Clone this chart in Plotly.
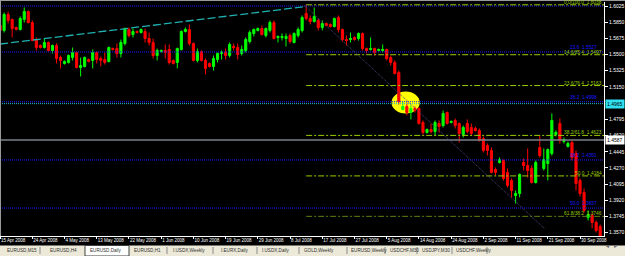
import plotly.graph_objects as go

W, H = 625, 256
L, R, T, B = 0, 21, 2, 20
PW, PH = W - L - R, H - T - B

# ---------------- data ----------------
tick_idx = [0, 8, 16, 24, 32, 40, 48, 56, 64, 72, 80, 88, 96, 104, 112, 120, 128, 136, 144]
tick_dates = ["15 Apr 2008", "24 Apr 2008", "4 May 2008", "13 May 2008", "22 May 2008",
              "1 Jun 2008", "10 Jun 2008", "19 Jun 2008", "29 Jun 2008", "8 Jul 2008",
              "17 Jul 2008", "27 Jul 2008", "5 Aug 2008", "14 Aug 2008", "24 Aug 2008",
              "2 Sep 2008", "11 Sep 2008", "21 Sep 2008", "30 Sep 2008"]

opens = [1.5814, 1.5760, 1.5933, 1.5879, 1.5792, 1.5771, 1.5879, 1.5965, 1.5846, 1.5662,
         1.5597, 1.5575, 1.5630, 1.5543, 1.5597, 1.5467, 1.5402, 1.5413, 1.5467, 1.5521,
         1.5359, 1.5370, 1.5445, 1.5435, 1.5521, 1.5456, 1.5445, 1.5424, 1.5564, 1.5564,
         1.5510, 1.5619, 1.5771, 1.5716, 1.5749, 1.5738, 1.5749, 1.5673, 1.5630, 1.5489,
         1.5532, 1.5543, 1.5554, 1.5435, 1.5413, 1.5554, 1.5749, 1.5771, 1.5619, 1.5435,
         1.5532, 1.5435, 1.5402, 1.5370, 1.5445, 1.5510, 1.5521, 1.5489, 1.5586, 1.5575,
         1.5510, 1.5543, 1.5640, 1.5727, 1.5760, 1.5781, 1.5706, 1.5760, 1.5846, 1.5684,
         1.5684, 1.5673, 1.5706, 1.5630, 1.5706, 1.5760, 1.5944, 1.5889, 1.5857, 1.5868,
         1.5792, 1.5835, 1.5825, 1.5803, 1.5900, 1.5771, 1.5662, 1.5662, 1.5684, 1.5673,
         1.5727, 1.5564, 1.5554, 1.5564, 1.5543, 1.5543, 1.5554, 1.5467, 1.5413, 1.5304,
         1.4904, 1.4936, 1.4871, 1.4915, 1.4915, 1.4763, 1.4655, 1.4687, 1.4665, 1.4752,
         1.4730, 1.4871, 1.4763, 1.4785, 1.4752, 1.4633, 1.4752, 1.4709, 1.4698, 1.4676,
         1.4590, 1.4514, 1.4460, 1.4254, 1.4330, 1.4351, 1.4222, 1.4135, 1.3972, 1.3993,
         1.4330, 1.4297, 1.4265, 1.4113, 1.4492, 1.4265, 1.4319, 1.4427, 1.4633, 1.4752,
         1.4557, 1.4503, 1.4546, 1.4427, 1.4135, 1.4005, 1.3734, 1.3755, 1.3680, 1.3636]
highs = [1.5846, 1.5955, 1.5965, 1.5889, 1.5803, 1.5911, 1.6009, 1.5976, 1.5868, 1.5684,
         1.5608, 1.5673, 1.5640, 1.5608, 1.5619, 1.5489, 1.5435, 1.5500, 1.5575, 1.5532,
         1.5467, 1.5478, 1.5456, 1.5554, 1.5532, 1.5478, 1.5521, 1.5586, 1.5575, 1.5619,
         1.5662, 1.5792, 1.5792, 1.5781, 1.5760, 1.5781, 1.5781, 1.5738, 1.5673, 1.5564,
         1.5554, 1.5608, 1.5608, 1.5445, 1.5575, 1.5760, 1.5792, 1.5825, 1.5630, 1.5564,
         1.5543, 1.5456, 1.5413, 1.5489, 1.5521, 1.5543, 1.5564, 1.5630, 1.5619, 1.5619,
         1.5597, 1.5684, 1.5760, 1.5781, 1.5792, 1.5814, 1.5792, 1.5868, 1.5868, 1.5706,
         1.5727, 1.5727, 1.5727, 1.5738, 1.5792, 1.5922, 1.6038, 1.5922, 1.6009, 1.5889,
         1.5868, 1.5846, 1.5835, 1.5900, 1.5922, 1.5781, 1.5706, 1.5738, 1.5695, 1.5738,
         1.5738, 1.5575, 1.5684, 1.5575, 1.5564, 1.5608, 1.5564, 1.5489, 1.5435, 1.5326,
         1.4990, 1.4980, 1.4947, 1.4936, 1.4926, 1.4785, 1.4698, 1.4752, 1.4785, 1.4785,
         1.4893, 1.4882, 1.4785, 1.4806, 1.4763, 1.4730, 1.4796, 1.4752, 1.4720, 1.4698,
         1.4611, 1.4535, 1.4492, 1.4276, 1.4384, 1.4362, 1.4265, 1.4157, 1.4026, 1.4211,
         1.4373, 1.4481, 1.4297, 1.4351, 1.4622, 1.4481, 1.4481, 1.4861, 1.4676, 1.4806,
         1.4600, 1.4557, 1.4568, 1.4460, 1.4157, 1.4048, 1.3810, 1.3777, 1.3701, 1.3658]
lows = [1.5738, 1.5738, 1.5835, 1.5684, 1.5760, 1.5760, 1.5846, 1.5835, 1.5640, 1.5543,
        1.5564, 1.5564, 1.5532, 1.5510, 1.5402, 1.5348, 1.5391, 1.5402, 1.5435, 1.5348,
        1.5261, 1.5359, 1.5413, 1.5348, 1.5402, 1.5370, 1.5391, 1.5413, 1.5543, 1.5467,
        1.5467, 1.5597, 1.5684, 1.5684, 1.5727, 1.5727, 1.5630, 1.5597, 1.5456, 1.5435,
        1.5521, 1.5456, 1.5391, 1.5391, 1.5348, 1.5543, 1.5738, 1.5597, 1.5424, 1.5413,
        1.5424, 1.5283, 1.5359, 1.5326, 1.5413, 1.5445, 1.5445, 1.5467, 1.5543, 1.5445,
        1.5489, 1.5521, 1.5619, 1.5695, 1.5749, 1.5706, 1.5684, 1.5738, 1.5662, 1.5630,
        1.5651, 1.5586, 1.5619, 1.5619, 1.5684, 1.5738, 1.5868, 1.5825, 1.5846, 1.5760,
        1.5760, 1.5803, 1.5792, 1.5792, 1.5738, 1.5640, 1.5597, 1.5630, 1.5651, 1.5651,
        1.5543, 1.5510, 1.5543, 1.5489, 1.5532, 1.5521, 1.5435, 1.5380, 1.5283, 1.4958,
        1.4893, 1.4839, 1.4796, 1.4871, 1.4741, 1.4633, 1.4644, 1.4644, 1.4622, 1.4655,
        1.4709, 1.4741, 1.4752, 1.4698, 1.4546, 1.4600, 1.4644, 1.4622, 1.4665, 1.4557,
        1.4438, 1.4405, 1.4211, 1.4189, 1.4319, 1.4135, 1.4059, 1.3951, 1.3885, 1.3951,
        1.4243, 1.4167, 1.4102, 1.4102, 1.4384, 1.4243, 1.4135, 1.4405, 1.4611, 1.4535,
        1.4535, 1.4492, 1.4351, 1.4026, 1.3961, 1.3788, 1.3701, 1.3614, 1.3571, 1.3506]
closes = [1.5760, 1.5933, 1.5868, 1.5781, 1.5771, 1.5889, 1.5965, 1.5846, 1.5651, 1.5575,
          1.5575, 1.5630, 1.5543, 1.5597, 1.5456, 1.5435, 1.5424, 1.5489, 1.5521, 1.5359,
          1.5380, 1.5467, 1.5424, 1.5521, 1.5445, 1.5435, 1.5413, 1.5575, 1.5554, 1.5510,
          1.5630, 1.5781, 1.5706, 1.5749, 1.5738, 1.5771, 1.5673, 1.5630, 1.5489, 1.5543,
          1.5543, 1.5521, 1.5413, 1.5402, 1.5564, 1.5749, 1.5771, 1.5619, 1.5435, 1.5532,
          1.5435, 1.5348, 1.5370, 1.5456, 1.5510, 1.5521, 1.5489, 1.5608, 1.5575, 1.5500,
          1.5554, 1.5662, 1.5738, 1.5771, 1.5781, 1.5716, 1.5781, 1.5846, 1.5673, 1.5695,
          1.5695, 1.5695, 1.5640, 1.5727, 1.5771, 1.5900, 1.5889, 1.5857, 1.5911, 1.5792,
          1.5835, 1.5814, 1.5803, 1.5889, 1.5771, 1.5662, 1.5651, 1.5673, 1.5662, 1.5727,
          1.5564, 1.5543, 1.5564, 1.5521, 1.5554, 1.5554, 1.5456, 1.5413, 1.5294, 1.4990,
          1.4936, 1.4871, 1.4915, 1.4893, 1.4752, 1.4655, 1.4687, 1.4665, 1.4763, 1.4720,
          1.4861, 1.4752, 1.4774, 1.4730, 1.4644, 1.4709, 1.4665, 1.4644, 1.4676, 1.4568,
          1.4460, 1.4460, 1.4222, 1.4222, 1.4362, 1.4157, 1.4081, 1.4026, 1.3993, 1.4200,
          1.4297, 1.4243, 1.4113, 1.4330, 1.4405, 1.4362, 1.4470, 1.4785, 1.4655, 1.4568,
          1.4579, 1.4535, 1.4384, 1.4102, 1.3993, 1.3810, 1.3766, 1.3680, 1.3593, 1.3517]

price_ticks = [1.6025, 1.5850, 1.5675, 1.5500, 1.5325, 1.5150, 1.4795, 1.4620,
               1.4445, 1.4270, 1.4095, 1.3920, 1.3745, 1.3570]

fib_start = 76
fib_levels = [1.6038, 1.5497, 1.5163, 1.4623, 1.4184, 1.3746]
fib_labels = ["0.0/100.0  1.6038", "14.6/85.4  1.5497", "23.6/76.4  1.5163",
              "38.2/61.8  1.4623", "50.0  1.4184", "61.8/38.2  1.3746"]
blue_levels = [1.6025, 1.5527, 1.4988, 1.4357, 1.3836]
blue_labels = ["", "23.6  1.5527", "38.2  1.4998", "38.2  1.4351", "50.0  1.3837"]
cyan_level = 1.4967
cyan_text = "1.4965"
grey_level = 1.4573
grey_text = "1.4587"

trend_pts = [(0, 1.5613), (76, 1.6020)]          # dashed cyan trendline
diag_pts = [(76, 1.6014), (135.3, 1.3609)]       # dotted diagonal
ellipse_box = (97.2, 104.2, 1.4861, 1.5099)      # x0, x1, y0, y1

tabs = ["EURUSD,M15", "EURUSD,H4", "EURUSD,Daily", "EURUSD,H1", "I.USDX,Weekly",
        "I.EURX,Daily", "I.USDX,Daily", "GOLD,Weekly", "EURUSD,Weekly", "USDCHF,M30",
        "USDJPY,M30", "USDCHF,Weekly"]
tab_x = [6, 49, 89, 133, 172, 220, 261, 303, 350, 389, 421, 455]
sep_x = [40, 167, 213, 257, 299, 347, 385, 417, 452, 487]
active_tab = 2

# ---------------- helpers (pixel -> paper) ----------------
def pxx(x):
    return (x - L) / PW

def pxy(y):
    return (H - B - y) / PH

FONT = "Liberation Sans"
GREEN_FIB = "#9acd00"
BLUE_FIB = "#1a1aff"

fig = go.Figure()

fig.add_trace(go.Candlestick(
    x=list(range(len(opens))), open=opens, high=highs, low=lows, close=closes,
    increasing=dict(line=dict(color="#00ff00", width=1), fillcolor="#00ff00"),
    decreasing=dict(line=dict(color="#ff0000", width=1), fillcolor="#ff0000"),
    whiskerwidth=0, showlegend=False, hoverinfo="skip"))

shapes = []
ann = []

# yellow ellipse (below candles)
shapes.append(dict(type="circle", xref="x", yref="y", layer="below",
                   x0=ellipse_box[0], x1=ellipse_box[1], y0=ellipse_box[2], y1=ellipse_box[3],
                   fillcolor="#ffff00", line=dict(width=0)))

# blue dotted levels
for lv, lab in zip(blue_levels, blue_labels):
    shapes.append(dict(type="line", xref="paper", yref="y", x0=0, x1=1, y0=lv, y1=lv,
                       line=dict(color=BLUE_FIB, width=1, dash="1px,1px")))
    if lab:
        ann.append(dict(xref="paper", yref="y", x=1, y=lv, text=lab, showarrow=False,
                        xanchor="right", yanchor="bottom", xshift=-6, yshift=1, borderpad=0,
                        font=dict(family=FONT, size=4.8, color=BLUE_FIB)))

# green fib levels
for i, (lv, lab) in enumerate(zip(fib_levels, fib_labels)):
    col = "#5f7f10" if i == len(fib_levels) - 1 else GREEN_FIB
    shapes.append(dict(type="line", xref="x", yref="y", x0=fib_start, x1=152, y0=lv, y1=lv,
                       line=dict(color=col, width=1, dash="6px,2px,2px,2px")))
    ann.append(dict(xref="paper", yref="y", x=1, y=lv, text=lab, showarrow=False,
                    xanchor="right", yanchor="bottom", xshift=-1, yshift=-1, borderpad=0,
                    font=dict(family=FONT, size=4.8, color=GREEN_FIB)))

# cyan dotted line and grey line
shapes.append(dict(type="line", xref="paper", yref="y", x0=0, x1=1, y0=cyan_level, y1=cyan_level,
                   line=dict(color="#20c0c8", width=1, dash="1px,1px")))
shapes.append(dict(type="line", xref="paper", yref="y", x0=0, x1=1, y0=grey_level, y1=grey_level,
                   line=dict(color="#7c818c", width=1.5)))

# trendline and diagonal
shapes.append(dict(type="line", xref="x", yref="y", x0=trend_pts[0][0], y0=trend_pts[0][1],
                   x1=trend_pts[1][0], y1=trend_pts[1][1],
                   line=dict(color="#1fb0b0", width=1.3, dash="8px,3px")))
shapes.append(dict(type="line", xref="x", yref="y", x0=diag_pts[0][0], y0=diag_pts[0][1],
                   x1=diag_pts[1][0], y1=diag_pts[1][1],
                   line=dict(color="#4a4a80", width=1, dash="1px,1px")))

# price boxes on the axis
ann.append(dict(xref="paper", yref="y", x=1, y=cyan_level, text=cyan_text, showarrow=False,
                xanchor="left", yanchor="middle", xshift=1, bgcolor="#30e0f0",
                font=dict(family=FONT, size=5, color="#000000"), borderpad=1))
ann.append(dict(xref="paper", yref="y", x=1, y=grey_level, text=grey_text, showarrow=False,
                xanchor="left", yanchor="middle", xshift=1, bgcolor="#ffffff",
                font=dict(family=FONT, size=5, color="#000000"), borderpad=1))

# window frame (top & left grey)
shapes.append(dict(type="line", xref="paper", yref="paper", x0=pxx(0), x1=pxx(W), y0=pxy(0.5), y1=pxy(0.5),
                   line=dict(color="#9a9a9a", width=1)))
shapes.append(dict(type="line", xref="paper", yref="paper", x0=pxx(0.5), x1=pxx(0.5), y0=pxy(0), y1=pxy(236),
                   line=dict(color="#9a9a9a", width=1)))

# tab bar
shapes.append(dict(type="rect", xref="paper", yref="paper", x0=pxx(0), x1=pxx(W), y0=pxy(256), y1=pxy(245.5),
                   fillcolor="#ece9d8", line=dict(width=0)))
ax0 = tab_x[active_tab] - 4
ax1 = ax0 + 44
shapes.append(dict(type="rect", xref="paper", yref="paper", x0=pxx(ax0), x1=pxx(ax1), y0=pxy(256), y1=pxy(245.5),
                   fillcolor="#ffffff", line=dict(color="#404040", width=1)))
for t, x in zip(tabs, tab_x):
    ann.append(dict(xref="paper", yref="paper", x=pxx(x), y=pxy(250.5), text=t, showarrow=False,
                    xanchor="left", yanchor="middle", borderpad=0,
                    font=dict(family=FONT, size=4.6, color="#303030")))
for x in sep_x:
    shapes.append(dict(type="line", xref="paper", yref="paper", x0=pxx(x), x1=pxx(x), y0=pxy(247), y1=pxy(254),
                       line=dict(color="#8a8a8a", width=1)))
ann.append(dict(xref="paper", yref="paper", x=pxx(611), y=pxy(250.5), text="◂", showarrow=False,
                font=dict(family="DejaVu Sans", size=6, color="#707070")))
ann.append(dict(xref="paper", yref="paper", x=pxx(619), y=pxy(250.5), text="▸", showarrow=False,
                font=dict(family="DejaVu Sans", size=6, color="#707070")))

fig.update_layout(
    width=W, height=H, margin=dict(l=L, r=R, t=T, b=B),
    paper_bgcolor="#000000", plot_bgcolor="#000000",
    shapes=shapes, annotations=ann, showlegend=False, boxgap=0.25,
    xaxis=dict(range=[-0.02, 149.95], rangeslider=dict(visible=False), showgrid=False, zeroline=False,
               tickmode="array", tickvals=tick_idx, ticktext=tick_dates, tickangle=0,
               ticks="outside", ticklen=2, tickcolor="#ffffff", ticklabelposition="outside right",
               tickfont=dict(family=FONT, size=4.5, color="#ffffff"),
               showline=True, linecolor="#ffffff", linewidth=1),
    yaxis=dict(range=[1.35331, 1.60683], side="right", showgrid=False, zeroline=False,
               tickmode="array", tickvals=price_ticks, ticktext=[f"{v:.4f}" for v in price_ticks],
               ticks="outside", ticklen=3, tickcolor="#ffffff",
               tickfont=dict(family=FONT, size=5, color="#ffffff"),
               showline=True, linecolor="#ffffff", linewidth=1),
)

fig.write_html("out.html")
